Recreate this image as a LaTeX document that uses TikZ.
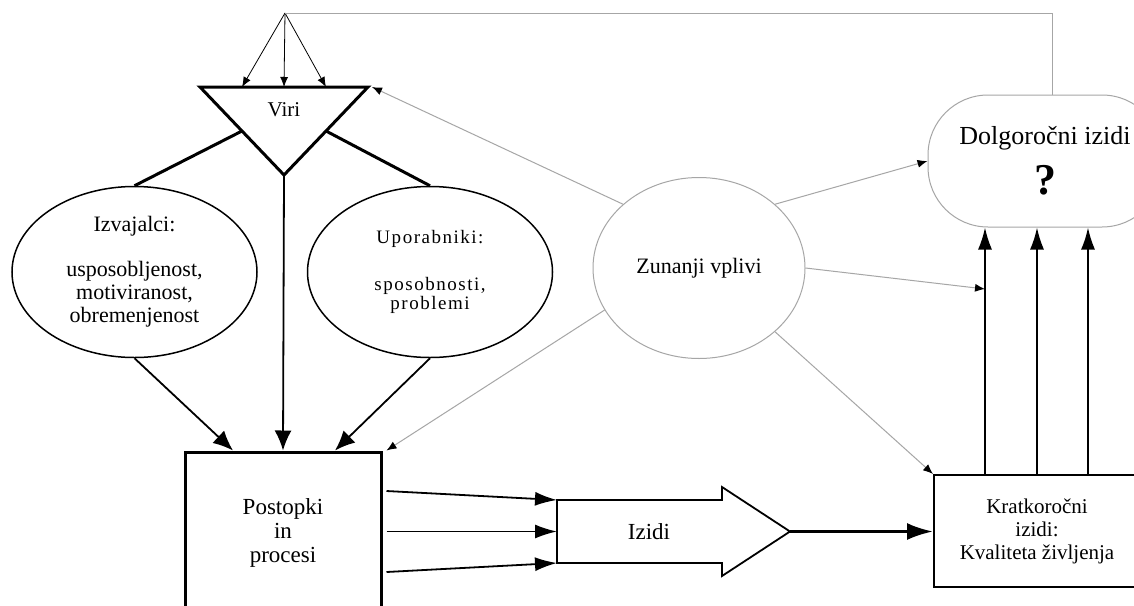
\documentclass[tikz,border=0pt]{standalone}
\usepackage{fontspec}
\setmainfont{Liberation Serif}
\usetikzlibrary{arrows.meta,shapes.geometric,calc}

\begin{document}
\begin{tikzpicture}[x=0.5pt, y=-0.5pt, >={Latex[length=10pt,width=8.5pt]},
    heavy/.style={line width=1.5pt},
    medium/.style={line width=0.9pt},
    faint/.style={color=gray!70, line width=0.5pt},
    faint border/.style={draw=gray!70, line width=0.5pt},
    tiny tip/.style={-{Latex[length=5pt,width=4pt,color=black,fill=black]}},
    flat tip/.style={-{Latex[length=11pt,width=7pt]}}]
\path[use as bounding box, fill=white] (0,0) rectangle (1134,605);
\clip (0,0) rectangle (1134,605);

\begin{scope}[]
    \coordinate (hub)   at (285,13);
    \coordinate (viriL) at (200,87);
    \coordinate (viriR) at (368,87);
    \coordinate (viriB) at (284,175);
    \coordinate (iz1)   at (557,500);
    \coordinate (iz2)   at (557,531.5);
    \coordinate (iz3)   at (557,563);
    \coordinate (izTip) at (790,531.5);
\end{scope}

% triangle and block arrow
\draw [heavy, line join=miter] (viriL) -- (viriR) -- (viriB) -- cycle;
\draw [medium, line join=miter] (iz1) -- (722,500) -- (722,487) -- (izTip)
    -- (722,576) -- (722,563) -- (iz3) -- cycle;

\begin{scope}[every node/.style={align=center, inner sep=0pt}]
    \node[font=\fontsize{10.5}{12}\selectfont] (viri)  at (284,110) {Viri};
    \node[font=\fontsize{11.5}{12}\selectfont] (izidi) at (649,532) {Izidi};
\end{scope}

\begin{scope}[every node/.style={ellipse, draw, line width=0.75pt, align=center,
        inner sep=0pt, minimum width=122.5pt, minimum height=85.5pt}]
    \node[font=\fontsize{11}{11.5}\selectfont] (izv) at (134.5,272)
        {Izvajalci:\\[11pt]usposobljenost,\\motiviranost,\\obremenjenost};
    \node[font=\fontsize{9.5}{8.5}\selectfont\addfontfeature{LetterSpace=8}] (upo) at (430,272)
        {Uporabniki:\\[14pt]sposobnosti,\\problemi};
    \node[faint border, minimum width=106pt, minimum height=90.5pt,
        font=\fontsize{11}{12}\selectfont] (zun) at (699,268) {Zunanji vplivi};
\end{scope}

\begin{scope}[every node/.style={rectangle, draw, align=center, inner sep=0pt}]
    \node[faint border, rounded corners=30pt, minimum width=117pt, minimum height=66pt,
        font=\fontsize{13}{14}\selectfont] (dolg) at (1045,161)
        {Dolgoročni izidi\\[6.5pt]{\fontsize{22}{22}\selectfont\bfseries ?}};
    \node[heavy, minimum width=98pt, minimum height=81pt,
        font=\fontsize{11.5}{12}\selectfont] (post) at (283,533)
        {Postopki\\in\\procesi};
    \node[line width=1pt, minimum width=103pt, minimum height=56pt,
        font=\fontsize{10.5}{11.5}\selectfont] (krat) at (1037,531)
        {Kratkoročni\\izidi:\\Kvaliteta življenja};
\end{scope}

\foreach \dx [count=\i] in {-26,0,25.5}
    \coordinate (k\i) at ([xshift=\dx pt]krat.north);
\coordinate (hit) at ($(k1)+(0,-185)$);

\begin{scope}[]
    \foreach \t in {0.25,0.5,0.75}
        \path [tiny tip, line width=0.4pt] (hub) edge ($(viriL)!\t!(viriR)$);
    \draw [faint] (hub) -| ([xshift=3.5pt]dolg.north);
    \path [heavy] ($(viriL)!0.5!(viriB)$) edge (izv.north);
    \path [heavy] ($(viriR)!0.5!(viriB)$) edge (upo.north);
    \path [->, medium] (viriB) edge (post.north);
    \path [->, medium] (izv.south) edge ([xshift=-25pt]post.north);
    \path [->, medium] (upo.south) edge ([xshift=26pt]post.north);
    \path [flat tip, medium] ([shift={(2pt,21pt)}]post.east) edge (iz1);
    \path [flat tip, medium] ([xshift=2pt]post.east |- iz2) edge (iz2);
    \path [flat tip, medium] ([shift={(2pt,-19.5pt)}]post.east) edge (iz3);
    \path [-{Latex[length=13pt,width=8.5pt]}, line width=1.4pt] (izTip) edge (izTip -| krat.west);
    \foreach \i in {1,2,3}
        \path [flat tip, medium] (k\i) edge (k\i |- dolg.south);
    \path [faint, tiny tip] (zun.140) edge ([xshift=2pt]viriR);
    \path [faint, tiny tip] (zun.40) edge (dolg.west);
    \path [faint, tiny tip] (zun.east) edge (hit);
    \path [faint, tiny tip] (zun.-40) edge (krat.north west);
    \path [faint, tiny tip] (zun.204) edge ([xshift=2pt]post.north east);
\end{scope}
\end{tikzpicture}
\end{document}
